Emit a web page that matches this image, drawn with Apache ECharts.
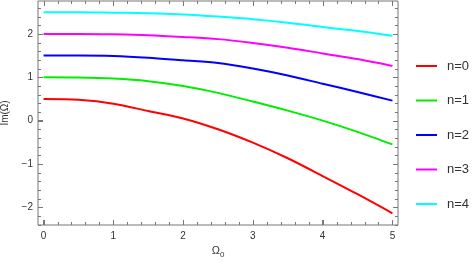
<!DOCTYPE html>
<html><head><meta charset="utf-8">
<script src="https://cdn.jsdelivr.net/npm/echarts@6/dist/echarts.min.js"></script>
<style>html,body{margin:0;padding:0;background:#fff}#c{width:476px;height:266px}</style>
</head><body><div id="c"></div>
<script>
const omega0 = [0, 0.5, 1, 1.5, 2, 2.5, 3, 3.5, 4, 4.5, 5];
const n0 = [0.50, 0.48, 0.39, 0.22, 0.05, -0.20, -0.51, -0.87, -1.28, -1.70, -2.14];
const n1 = [1.00, 0.995, 0.97, 0.91, 0.80, 0.64, 0.44, 0.23, 0.00, -0.26, -0.55];
const n2 = [1.50, 1.50, 1.49, 1.45, 1.39, 1.33, 1.20, 1.04, 0.85, 0.66, 0.46];
const n3 = [2.00, 2.00, 1.99, 1.97, 1.93, 1.88, 1.79, 1.68, 1.55, 1.42, 1.26];
const n4 = [2.50, 2.50, 2.49, 2.48, 2.45, 2.40, 2.34, 2.26, 2.16, 2.07, 1.96];
const seriesNames = ['n=0', 'n=1', 'n=2', 'n=3', 'n=4'];
const seriesColors = ['#ff0000', '#00ee00', '#0000ff', '#ff00ff', '#00ffff'];
const xMajor = [0, 1, 2, 3, 4, 5];
const yMajor = [-2, -1, 0, 1, 2];
const X_MIN = -0.08, X_MAX = 5.08, Y_MIN = -2.41, Y_MAX = 2.76;

function minors(a, b, step, majors) {
  const out = [];
  for (let i = Math.round(a / step); i * step <= b + 1e-9; i++) {
    const v = +(i * step).toFixed(4);
    if (!majors.some(m => Math.abs(m - v) < 1e-6)) out.push(v);
  }
  return out;
}
const xMinor = minors(0, 5, 0.2, xMajor);
const yMinor = minors(-2.4, 2.6, 0.2, yMajor);

const axisCol = '#777';
const lblCol = '#333';
const FONT = 'Liberation Sans, Arial';

const tickData = [];
xMajor.forEach(v => { tickData.push([v, Y_MIN, 0, 1]); tickData.push([v, Y_MAX, 1, 1]); });
xMinor.forEach(v => { tickData.push([v, Y_MIN, 0, 0]); tickData.push([v, Y_MAX, 1, 0]); });
yMajor.forEach(v => { tickData.push([X_MIN, v, 2, 1]); tickData.push([X_MAX, v, 3, 1]); });
yMinor.forEach(v => { tickData.push([X_MIN, v, 2, 0]); tickData.push([X_MAX, v, 3, 0]); });

const chart = echarts.init(document.getElementById('c'), null, { renderer: 'canvas' });
const series = [n0, n1, n2, n3, n4].map((arr, i) => ({
  name: seriesNames[i], type: 'line',
  data: omega0.map((x, j) => [x, arr[j]]),
  smooth: 0.3, showSymbol: false, symbol: 'none',
  lineStyle: { color: seriesColors[i], width: 2 }, itemStyle: { color: seriesColors[i] },
  animation: false, z: 3
}));
series.push({
  name: 'ticks', type: 'custom', coordinateSystem: 'cartesian2d', silent: true, clip: false, z: 10,
  data: tickData,
  dimensions: ['x', 'y', 'side', 'major'],
  encode: { x: 0, y: 1 },
  renderItem: function (params, api) {
    const p = api.coord([api.value(0), api.value(1)]);
    const side = api.value(2), major = api.value(3);
    const len = major ? 5 : 3;
    const r = a => Math.round(a) + 0.5;
    let pts;
    if (side === 0) pts = [[r(p[0]), p[1]], [r(p[0]), p[1] - len]];
    else if (side === 1) pts = [[r(p[0]), p[1]], [r(p[0]), p[1] + len]];
    else if (side === 2) pts = [[p[0], r(p[1])], [p[0] + len, r(p[1])]];
    else pts = [[p[0], r(p[1])], [p[0] - len, r(p[1])]];
    return { type: 'polyline', shape: { points: pts }, style: { stroke: axisCol, lineWidth: 1, fill: null } };
  }
});

chart.setOption({
  animation: false,
  grid: { left: 38, top: 1, right: 78, bottom: 41, containLabel: false, outerBoundsMode: 'none',
    show: true, borderColor: axisCol, borderWidth: 1, backgroundColor: 'transparent' },
  xAxis: {
    type: 'value', min: X_MIN, max: X_MAX,
    axisLine: { show: false, onZero: false },
    axisTick: { show: true, inside: true, length: 5, customValues: xMajor, lineStyle: { color: axisCol, width: 1 } },
    axisLabel: { show: true, customValues: xMajor, color: lblCol, fontSize: 10, fontFamily: FONT, margin: 6 },
    splitLine: { show: false },
    name: '{a|\u03A9}{b|0}', nameLocation: 'middle', nameGap: 15,
    nameTextStyle: { color: lblCol, rich: { a: { fontSize: 11, color: lblCol, fontFamily: FONT }, b: { fontSize: 8, color: lblCol, verticalAlign: 'bottom', padding: [6, 0, 0, 0], fontFamily: FONT } } }
  },
  yAxis: {
    type: 'value', min: Y_MIN, max: Y_MAX,
    axisLine: { show: false, onZero: false },
    axisTick: { show: true, inside: true, length: 5, customValues: yMajor, lineStyle: { color: axisCol, width: 1 } },
    axisLabel: { show: true, customValues: yMajor, color: lblCol, fontSize: 10, fontFamily: FONT, margin: 5,
      formatter: v => String(v).replace('-', '\u2212') },
    splitLine: { show: false },
    name: 'Im(\u03A9)', nameLocation: 'middle', nameGap: 25,
    nameTextStyle: { color: lblCol, fontSize: 10, fontFamily: FONT }
  },
  legend: {
    orient: 'vertical', left: 416, top: 58, padding: 0, itemWidth: 21, itemHeight: 2,
    itemGap: 18.5, icon: 'rect',
    textStyle: { color: lblCol, fontSize: 13, lineHeight: 16, fontFamily: FONT, padding: [0, 0, 0, 5] },
    data: seriesNames
  },
  series: series
});
</script></body></html>
